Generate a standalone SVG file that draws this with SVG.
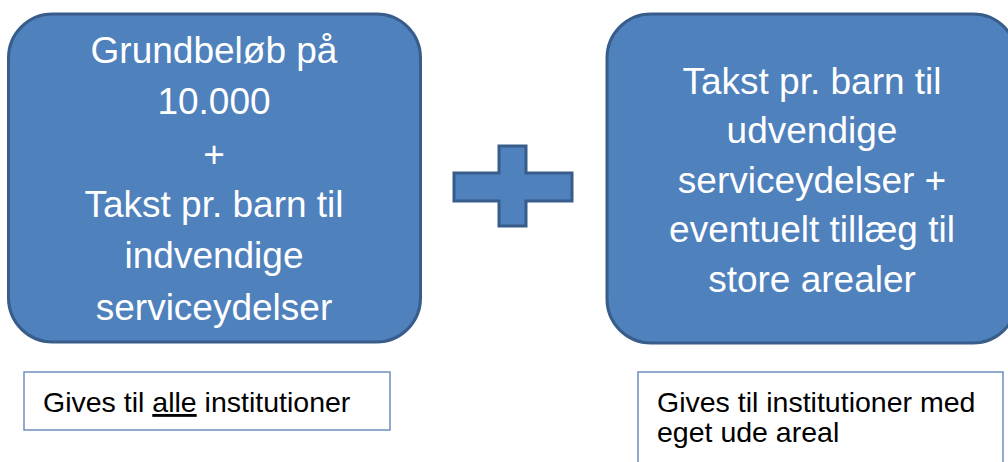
<svg xmlns="http://www.w3.org/2000/svg" width="1008" height="462" viewBox="0 0 1008 462">
<style>
.box{fill:#4F81BD;stroke:#385D8A;stroke-width:3}
.wt{font-family:"Liberation Sans",Arial,sans-serif;font-size:37px;fill:#FFFFFF;text-anchor:middle}
.note{fill:#FFFFFF;stroke:#6D8EBE;stroke-width:1.5}
.bt{font-family:"Liberation Sans",Arial,sans-serif;font-size:28.5px;fill:#000000}
</style>
<rect width="1008" height="462" fill="#FFFFFF"/>
<g id="node-left">
<rect class="box" x="8.5" y="14" width="412" height="328" rx="44" ry="44"/>
<text class="wt" x="214" y="63">Grundbeløb på</text>
<text class="wt" x="214" y="114">10.000</text>
<text class="wt" x="214" y="167">+</text>
<text class="wt" x="214" y="217">Takst pr. barn til</text>
<text class="wt" x="214" y="268">indvendige</text>
<text class="wt" x="214" y="320">serviceydelser</text>
</g>
<g id="node-plus">
<path class="box" stroke-width="4" d="M454,173 H499 V146 H526 V173 H572 V201 H526 V226 H499 V201 H454 Z"/>
</g>
<g id="node-right">
<rect class="box" x="607" y="14" width="410" height="329" rx="44" ry="44"/>
<text class="wt" x="812" y="94">Takst pr. barn til</text>
<text class="wt" x="812" y="143">udvendige</text>
<text class="wt" x="812" y="193">serviceydelser +</text>
<text class="wt" x="812" y="242">eventuelt tillæg til</text>
<text class="wt" x="812" y="292">store arealer</text>
</g>
<g id="note-left">
<rect class="note" x="24" y="372" width="366" height="58"/>
<text class="bt" x="43" y="412">Gives til <tspan text-decoration="underline">alle</tspan> institutioner</text>
</g>
<g id="note-right">
<rect class="note" x="638" y="372" width="365" height="100"/>
<text class="bt" x="657" y="412">Gives til institutioner med</text>
<text class="bt" x="657" y="442">eget ude areal</text>
</g>
<g id="connectors"></g>
</svg>
